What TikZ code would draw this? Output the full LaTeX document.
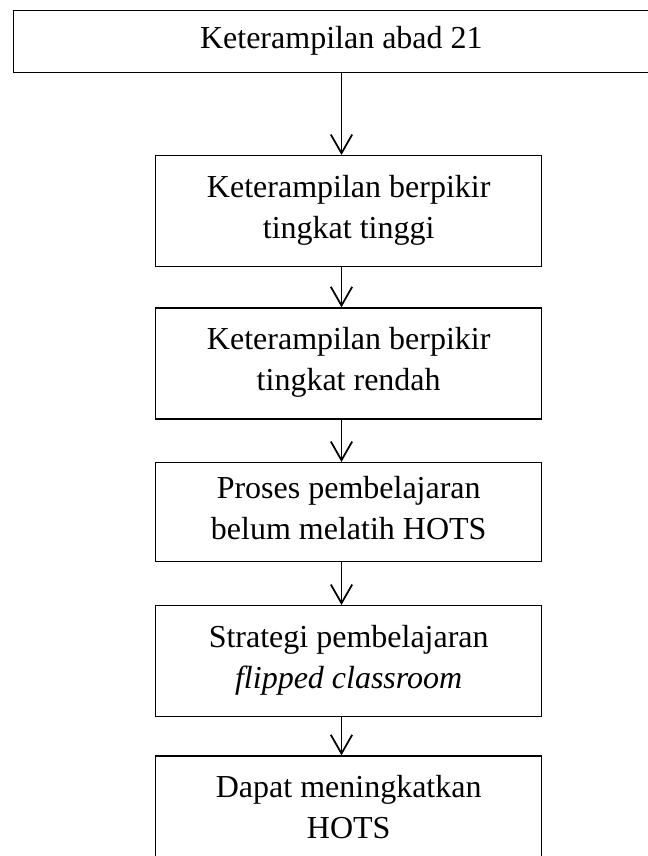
\documentclass[tikz,border=0pt]{standalone}
\usepackage{fontspec}
\setmainfont{Liberation Serif}
\usetikzlibrary{arrows.meta}
\newcommand{\lnstrut}{\rule[-6.8pt]{0pt}{23.3pt}}
\tikzset{
  flowbox/.style={draw=black, line width=1.1pt, rectangle, inner sep=0pt, align=center,
    minimum width=289.5pt, font=\fontsize{24}{31}\selectfont},
  flowarrow/.style={draw=black, line width=1.3pt, -{Straight Barb[length=14pt,width=16pt,line width=1.3pt]}}
}
\begin{document}
\begin{tikzpicture}[x=0.75pt,y=-0.75pt]
\useasboundingbox (0,0) rectangle (648,856);
\node[flowbox, minimum width=491.5pt, minimum height=46.8pt] (b1) at (341.35,41.5) {\lnstrut Keterampilan abad 21};
\node[flowbox, minimum height=83.25pt] (b2) at (348.7,211.2) {\lnstrut Keterampilan berpikir\\\lnstrut tingkat tinggi};
\node[flowbox, minimum height=83.25pt] (b3) at (348.7,363.5) {\lnstrut Keterampilan berpikir\\\lnstrut tingkat rendah};
\node[flowbox, minimum height=74.25pt] (b4) at (348.7,512.2) {\lnstrut Proses pembelajaran\\\lnstrut belum melatih HOTS};
\node[flowbox, minimum height=83.25pt] (b5) at (348.7,661.2) {\lnstrut Strategi pembelajaran\\\lnstrut\textit{flipped classroom}};
\node[flowbox, minimum height=83.25pt] (b6) at (348.7,811.5) {\lnstrut Dapat meningkatkan\\\lnstrut HOTS};
\coordinate (ax) at (341.5,0);
\draw[flowarrow] (b1.south -| ax) -- (b2.north -| ax);
\draw[flowarrow] (b2.south -| ax) -- (b3.north -| ax);
\draw[flowarrow] (b3.south -| ax) -- (b4.north -| ax);
\draw[flowarrow] (b4.south -| ax) -- (b5.north -| ax);
\draw[flowarrow] (b5.south -| ax) -- (b6.north -| ax);
\end{tikzpicture}
\end{document}
